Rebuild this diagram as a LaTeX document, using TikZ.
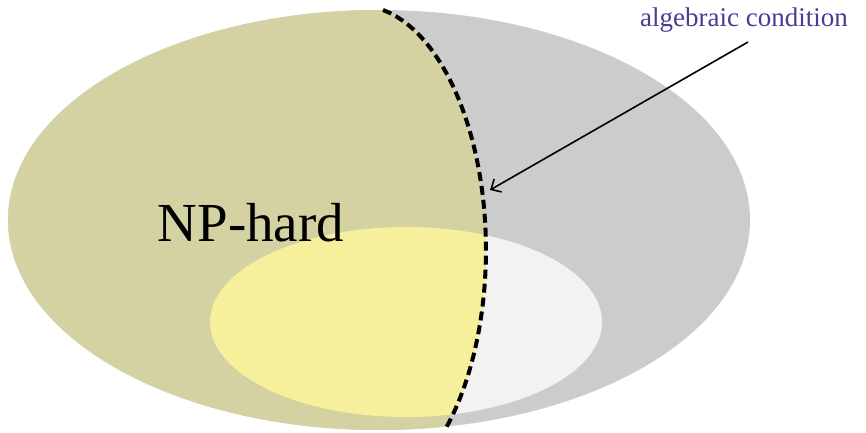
\documentclass[tikz,border=0pt]{standalone}
\usepackage{fontspec}
\setmainfont{Liberation Serif}
\usepackage{tikz}
\usetikzlibrary{arrows.meta,positioning}

\definecolor{hardcol}{RGB}{212,209,162}
\definecolor{easycol}{RGB}{204,204,204}
\definecolor{innerhard}{RGB}{246,239,155}
\definecolor{innereasy}{RGB}{242,242,242}
\definecolor{labelcol}{RGB}{72,60,150}

\begin{document}
\begin{tikzpicture}[x=1pt, y=1pt,
        boundary/.style={line width=4pt, dash pattern=on 9pt off 5pt},
        pointer/.style={line width=1.6pt, -{Straight Barb[length=8pt,width=15pt,line width=1.6pt]}}]
        \useasboundingbox (0,0) rectangle (866,432);

        % outer and inner regions, right side
        \fill[easycol] (379,212) ellipse [x radius=371pt, y radius=210pt];
        \fill[innereasy] (406,110) ellipse [x radius=196pt, y radius=95pt];

        % left side of the dashed curve
        \begin{scope}
          \clip (383,422) arc[start angle=78.7, end angle=-47.2, x radius=128pt, y radius=245pt]
            -- (445,-10) -- (-10,-10) -- (-10,445) -- (383,445) -- cycle;
          \fill[hardcol] (379,212) ellipse [x radius=371pt, y radius=210pt];
          \fill[innerhard] (406,110) ellipse [x radius=196pt, y radius=95pt];
        \end{scope}

        \draw[boundary] (383,422) arc[start angle=78.7, end angle=-47.2, x radius=128pt, y radius=245pt];
        \coordinate (hit) at (490,242);

        \node[anchor=base, font=\fontsize{55}{60}\selectfont] (np) at (251,191) {NP-hard};
        \node[anchor=base, inner sep=9pt, text=labelcol, font=\fontsize{27}{30}\selectfont] (cond) at (744,405) {algebraic condition};

        \draw[pointer] ([xshift=4pt]cond.south) -- (hit);
  \end{tikzpicture}
\end{document}
